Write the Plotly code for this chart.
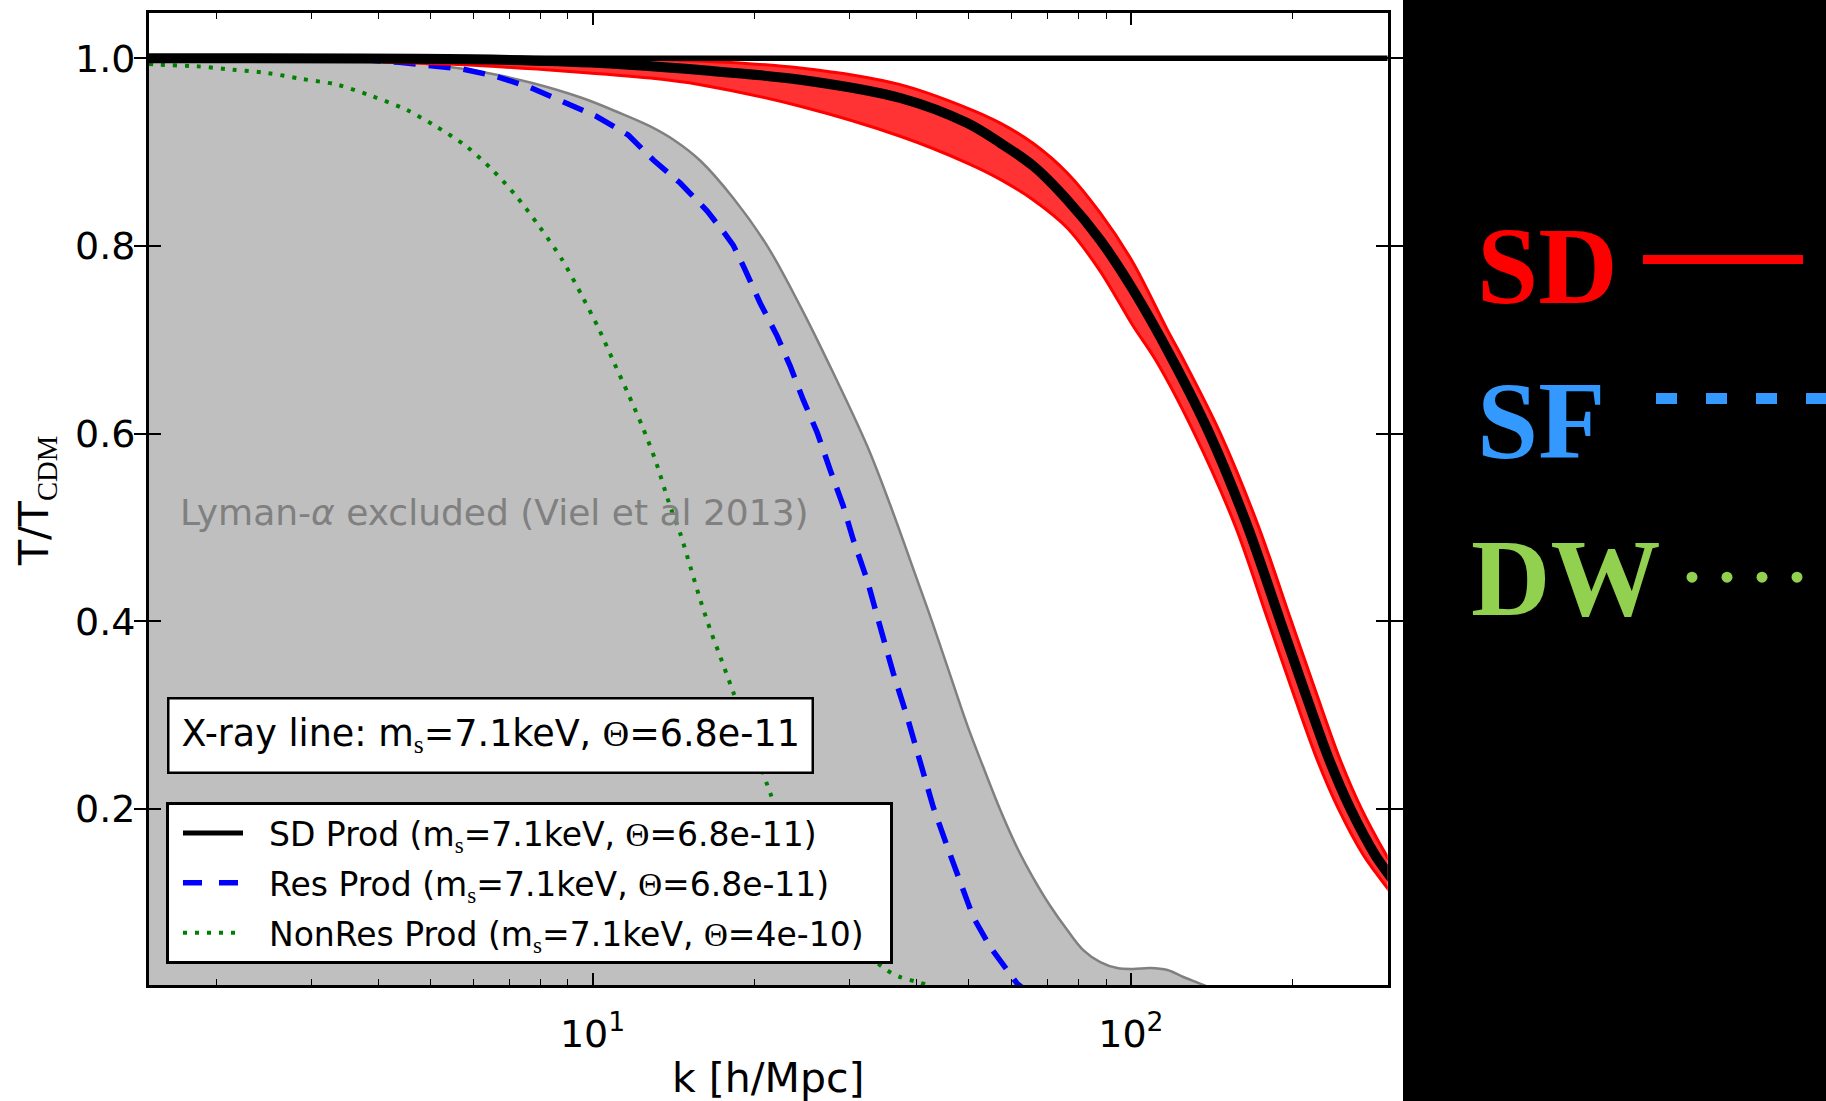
import plotly.graph_objects as go

# ---------------------------------------------------------------------------
# Transfer functions T(k)/T_CDM(k) for a 7.1 keV sterile neutrino
# ---------------------------------------------------------------------------

# Lyman-alpha excluded region boundary (Viel et al 2013)
lya_k = [1.5, 2.864, 4.393, 5.037, 6.240, 7.727, 9.570, 11.07, 12.75, 14.25,
         15.86, 18.25, 21.12, 24.31, 28.01, 32.38, 35.73, 40.11, 42.95, 46.18,
         49.67, 53.19, 57.21, 61.52, 65.89, 70.85, 76.19, 81.57, 87.74, 94.36,
         101.0, 108.7, 116.9, 125.2, 136.3, 153.0]
lya_T = [1.0, 0.9993, 0.9971, 0.9929, 0.9854, 0.9737, 0.9577, 0.9433, 0.9279,
         0.9119, 0.8908, 0.8511, 0.7999, 0.7360, 0.6646, 0.5868, 0.5240, 0.4440,
         0.3961, 0.3428, 0.2895, 0.2448, 0.1990, 0.1585, 0.1265, 0.0967, 0.0711,
         0.0498, 0.0370, 0.0306, 0.0296, 0.0306, 0.0285, 0.0211, 0.0126, 0.0]

# Resonant production (Theta = 6.8e-11)
res_k = [1.5, 3.5, 4.37, 4.91, 5.73, 6.62, 7.63, 8.78, 10.16, 11.65, 12.97,
         14.55, 16.33, 17.57, 18.25, 19.05, 20.49, 22.03, 23.29, 24.63, 26.15,
         27.65, 29.22, 30.5, 32.38, 34.23, 36.19, 38.42, 40.62, 42.95, 45.6,
         48.2, 50.95, 54.8, 58.95, 61.5, 66.0]
res_T = [1.0, 1.0, 0.9957, 0.9921, 0.9886, 0.9808, 0.9694, 0.9542, 0.9382,
         0.9183, 0.8916, 0.8671, 0.8373, 0.8139, 0.801, 0.779, 0.739, 0.704,
         0.672, 0.636, 0.601, 0.561, 0.523, 0.487, 0.444, 0.394, 0.345, 0.298,
         0.249, 0.202, 0.160, 0.121, 0.085, 0.053, 0.028, 0.014, 0.0]

# Non-resonant production (Theta = 4e-10)
nonres_k = [1.5, 1.567, 1.835, 2.14, 2.49, 2.89, 3.36, 3.90, 4.51, 5.12, 5.83,
            6.51, 7.22, 7.96, 8.78, 9.57, 10.29, 10.97, 11.65, 12.37, 13.08,
            13.94, 14.55, 15.19, 15.86, 16.55, 17.27, 18.25, 20.76, 21.39,
            24.3, 27.65, 31.4, 35.3, 37.3, 40.6, 46.0]
nonres_T = [0.994, 0.9932, 0.9915, 0.9879, 0.9843, 0.9779, 0.9718, 0.9595,
            0.9452, 0.9275, 0.9062, 0.8813, 0.853, 0.821, 0.7854, 0.7464,
            0.7108, 0.6753, 0.6423, 0.6079, 0.572, 0.5224, 0.4939, 0.4583,
            0.4228, 0.3909, 0.3624, 0.3248, 0.2381, 0.2168, 0.146, 0.093,
            0.052, 0.028, 0.021, 0.015, 0.005]

# Scalar-decay production: central curve and spread
sd_k = [1.5, 6.0, 10.33, 15.86, 24.31, 37.29, 49.67, 57.2, 65.9, 76.2, 87.7,
        101.0, 119.6, 139.9, 164.8, 189.5, 210.9, 233.7, 255.6, 284.4, 299.1,
        316.6]
sd_T = [1.0, 0.999, 0.995, 0.9875, 0.9772, 0.9577, 0.931, 0.9098, 0.8852,
        0.849, 0.8064, 0.7531, 0.6785, 0.6004, 0.5009, 0.4004, 0.3234, 0.2523,
        0.2008, 0.151, 0.133, 0.114]

sd_hi_k = [4.0, 12.8, 24.31, 37.29, 49.67, 57.2, 65.9, 76.2, 87.7, 101.0,
           116.9, 125.3, 146.6, 172.7, 198.6, 221.1, 244.9, 267.9, 298.1,
           313.8, 330.0]
sd_hi_T = [1.0, 0.999, 0.9897, 0.9719, 0.947, 0.931, 0.9092, 0.8778, 0.8352,
           0.7820, 0.7105, 0.6785, 0.6004, 0.5009, 0.4004, 0.3234, 0.2523,
           0.2008, 0.151, 0.13, 0.11]

sd_lo_k = [4.07, 6.24, 12.8, 15.86, 24.31, 37.29, 49.67, 57.2, 65.9, 76.2,
           87.7, 101.0, 111.2, 131.2, 156.5, 180.0, 200.3, 222.0, 242.8, 270.3,
           284.4, 300.3, 320.0]
sd_lo_T = [0.996, 0.992, 0.979, 0.9719, 0.9489, 0.9169, 0.8884, 0.871, 0.849,
           0.8192, 0.7733, 0.7147, 0.6785, 0.6004, 0.5009, 0.4004, 0.3234,
           0.2523, 0.2008, 0.151, 0.133, 0.115, 0.095]

# CDM reference level
cdm_k = [1.5, 300.0]
cdm_T = [1.0, 1.0]

# Axis ticks
x_ticks = [10, 100]
x_ticktext = ["10<sup>1</sup>", "10<sup>2</sup>"]
x_minor = [2, 3, 4, 5, 6, 7, 8, 9, 20, 30, 40, 50, 60, 70, 80, 90, 200, 300]
y_ticks = [0.2, 0.4, 0.6, 0.8, 1.0]
y_ticktext = ["0.2", "0.4", "0.6", "0.8", "1.0"]

SERIF = "Liberation Serif"
SANS = "DejaVu Sans"
NB = "\u00a0"


def ser(t):
    return f"<span style='font-family:{SERIF}'>{t}</span>"


MS = "m<sub>" + ser("s") + "</sub>"
TH = ser("Θ")

# Figure geometry (pixels)
W, H = 1826, 1101
L = 149
PX0, PX1 = 149, 1387.7
PY0, PY1 = 12.5, 985.0


def px(x):
    return (x - L) / (W - L)


def py(y):
    return (H - y) / H


fig = go.Figure()

# Lyman-alpha excluded region
fig.add_trace(go.Scatter(
    x=lya_k, y=lya_T, mode="lines", fill="tozeroy",
    fillcolor="#bfbfbf", line=dict(color="#808080", width=2.5, shape="spline",
                                   smoothing=1.0),
    showlegend=False, hoverinfo="skip"))

# Non-resonant production
fig.add_trace(go.Scatter(
    x=nonres_k, y=nonres_T, mode="lines",
    line=dict(color="#008000", width=4, dash="4px,8px", shape="spline",
              smoothing=0.8),
    showlegend=False))

# Resonant production
fig.add_trace(go.Scatter(
    x=res_k, y=res_T, mode="lines",
    line=dict(color="#0000ff", width=5.5, dash="22px,13px"),
    showlegend=False))

# SD spread band
band_k = sd_hi_k + sd_lo_k[::-1]
band_T = sd_hi_T + sd_lo_T[::-1]
fig.add_trace(go.Scatter(
    x=band_k, y=band_T, mode="lines", fill="toself", fillcolor="#ff3333",
    line=dict(color="#ff0000", width=3, shape="spline", smoothing=0.9),
    showlegend=False, hoverinfo="skip"))

# SD central curve
fig.add_trace(go.Scatter(
    x=sd_k, y=sd_T, mode="lines",
    line=dict(color="black", width=10, shape="spline", smoothing=0.9),
    showlegend=False))

# CDM reference (drawn on the top axis so it sits above everything)
fig.add_trace(go.Scatter(
    x=cdm_k, y=cdm_T, mode="lines", line=dict(color="black", width=5.5),
    xaxis="x2", showlegend=False))

# Legend entries
lead = NB * 2
tail = NB * 2
fig.add_trace(go.Scatter(
    x=[None], y=[None], mode="lines", line=dict(color="black", width=5),
    name=f"{lead}SD Prod ({MS}=7.1keV, {TH}=6.8e-11){tail}",
    legendgroup="a"))
fig.add_trace(go.Scatter(
    x=[None], y=[None], mode="lines",
    line=dict(color="#0000ff", width=5.5, dash="19px,17px"),
    name=f"{lead}Res Prod ({MS}=7.1keV, {TH}=6.8e-11){tail}",
    legendgroup="b"))
fig.add_trace(go.Scatter(
    x=[None], y=[None], mode="lines",
    line=dict(color="#008000", width=4, dash="4px,8px"),
    name=f"{lead}NonRes Prod ({MS}=7.1keV, {TH}=4e-10){tail}",
    legendgroup="c"))

tickfont = dict(family=SANS, size=38, color="black")
x_range = [0.176091, 2.477121]
x_domain = [0, (PX1 - L) / (W - L)]
minor_x = dict(ticks="inside", ticklen=6, tickwidth=1.2, tickcolor="black",
               tickmode="array", tickvals=x_minor, showgrid=False)

fig.update_layout(
    xaxis=dict(
        type="log", range=x_range, domain=x_domain,
        showline=True, linecolor="black", linewidth=3, mirror=True,
        ticks="inside", ticklen=12, tickwidth=1.5, tickcolor="black",
        showgrid=False, zeroline=False, tickfont=tickfont,
        tickmode="array", tickvals=x_ticks, ticktext=x_ticktext,
        ticklabelstandoff=13, minor=minor_x),
    xaxis2=dict(
        type="log", range=x_range, domain=x_domain, overlaying="x",
        side="top", anchor="y", showline=False,
        ticks="inside", ticklen=12, tickwidth=1.5, tickcolor="black",
        showgrid=False, zeroline=False, showticklabels=False,
        tickmode="array", tickvals=x_ticks, minor=minor_x),
    yaxis=dict(
        range=[0.01257, 1.0488], domain=[py(PY1), py(PY0)],
        showline=True, linecolor="black", linewidth=3, mirror="allticks",
        ticks="inside", ticklen=12, tickwidth=1.5, tickcolor="black",
        showgrid=False, zeroline=False, tickfont=tickfont,
        tickmode="array", tickvals=y_ticks, ticktext=y_ticktext,
        ticklabelstandoff=3),
)

annotations = [
    # axis titles
    dict(text="k [h/Mpc]", x=px((PX0 + PX1) / 2), y=py(1078), xref="paper",
         yref="paper", xanchor="center", yanchor="middle", showarrow=False,
         font=dict(family=SANS, size=41, color="black")),
    dict(text="T/T<sub>" + ser("CDM") + "</sub>", x=px(37), y=py(501),
         xref="paper", yref="paper", xanchor="center", yanchor="middle",
         textangle=-90, showarrow=False,
         font=dict(family=SANS, size=41, color="black")),
    # region label
    dict(text="Lyman-<i>α</i> excluded (Viel et al 2013)", x=px(178),
         y=py(512), xref="paper", yref="paper", xanchor="left",
         yanchor="middle", showarrow=False,
         font=dict(family=SANS, size=36, color="#808080")),
    # X-ray line box
    dict(text=f"X-ray line: {MS}=7.1keV, {TH}=6.8e-11", x=px(167),
         y=py(697), xref="paper", yref="paper", xanchor="left",
         yanchor="top", showarrow=False, bgcolor="white",
         bordercolor="black", borderwidth=2.5, borderpad=12,
         font=dict(family=SANS, size=36.5, color="black")),
    # key on the dark panel
    dict(text="<b>SD</b>", x=px(1475), y=py(266), xref="paper",
         yref="paper", xanchor="left", yanchor="middle", showarrow=False,
         font=dict(family=SERIF, size=110, color="#ff0000")),
    dict(text="<b>SF</b>", x=px(1475), y=py(421), xref="paper",
         yref="paper", xanchor="left", yanchor="middle", showarrow=False,
         font=dict(family=SERIF, size=110, color="#3399ff")),
    dict(text="<b>DW</b>", x=px(1469), y=py(578), xref="paper",
         yref="paper", xanchor="left", yanchor="middle", showarrow=False,
         font=dict(family=SERIF, size=110, color="#92d050")),
]

shapes = [
    dict(type="rect", xref="paper", yref="paper", x0=px(1403), x1=1.02,
         y0=-0.02, y1=1.02, fillcolor="black", line=dict(width=0)),
    dict(type="line", xref="paper", yref="paper", x0=px(1643), x1=px(1803),
         y0=py(259.4), y1=py(259.4), line=dict(color="#ff0000", width=9)),
    dict(type="line", xref="paper", yref="paper", x0=px(1656), x1=1.01,
         y0=py(398.4), y1=py(398.4),
         line=dict(color="#3399ff", width=11, dash="21px,29px")),
]
for cx in [1692, 1727, 1762, 1797]:
    r = 5.5
    shapes.append(dict(type="circle", xref="paper", yref="paper",
                       x0=px(cx - r), x1=px(cx + r), y0=py(577.2 + r),
                       y1=py(577.2 - r), fillcolor="#92d050",
                       line=dict(width=0)))

fig.update_layout(
    width=W, height=H, autosize=False,
    margin=dict(l=L, r=0, t=0, b=0, pad=0),
    paper_bgcolor="white", plot_bgcolor="white",
    font=dict(family=SANS, color="black"),
    annotations=annotations, shapes=shapes,
    legend=dict(x=px(166), y=py(802), xanchor="left", yanchor="top",
                xref="paper", yref="paper",
                bgcolor="white", bordercolor="black", borderwidth=3,
                font=dict(family=SANS, size=33, color="black"),
                itemwidth=60, indentation=9, tracegroupgap=4,
                traceorder="grouped"),
)

fig.write_html("out.html")
